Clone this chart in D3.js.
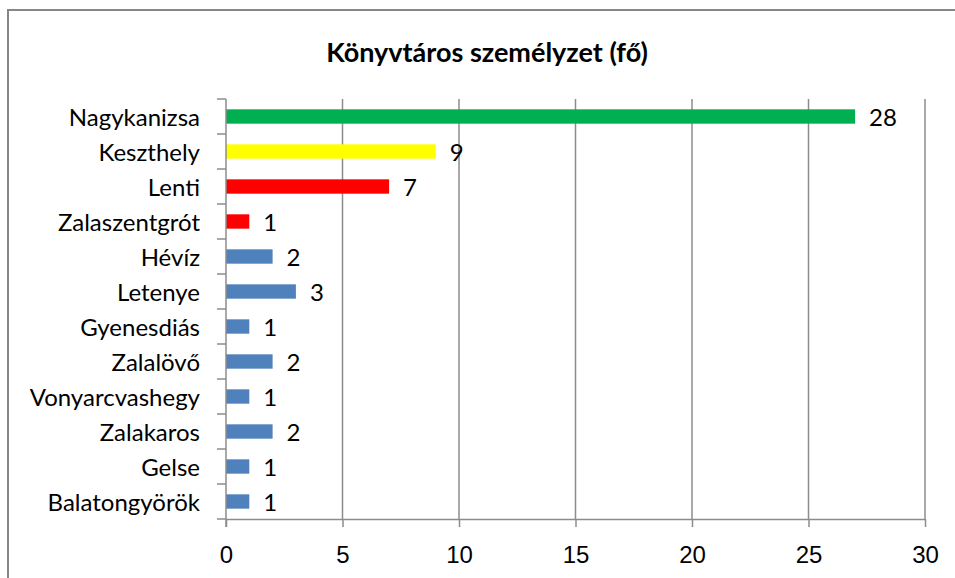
<!DOCTYPE html>
<html>
<head>
<meta charset="utf-8">
<script src="https://cdn.jsdelivr.net/npm/d3@7"></script>
<style>
  body { margin: 0; background: #fff; }
  svg { display: block; font-family: Lato, "Open Sans", sans-serif; }
</style>
</head>
<body>
<svg id="chart"></svg>
<script>
var title = "Könyvtáros személyzet (fő)";
var categories = ["Nagykanizsa", "Keszthely", "Lenti", "Zalaszentgrót", "Hévíz", "Letenye",
    "Gyenesdiás", "Zalalövő", "Vonyarcvashegy", "Zalakaros", "Gelse", "Balatongyörök"];
// bar lengths as drawn, and the data labels as printed (they differ for Nagykanizsa)
var values = [27, 9, 7, 1, 2, 3, 1, 2, 1, 2, 1, 1];
var labels = ["28", "9", "7", "1", "2", "3", "1", "2", "1", "2", "1", "1"];
var colors = ["#00b050", "#ffff00", "#ff0000", "#ff0000", "#4f81bd", "#4f81bd",
    "#4f81bd", "#4f81bd", "#4f81bd", "#4f81bd", "#4f81bd", "#4f81bd"];
var xTicks = [0, 5, 10, 15, 20, 25, 30];

var width = 955, height = 578,
    margin = {top: 99, right: 30, bottom: 59, left: 226};
var fs = "24px";

var svg = d3.select("#chart")
    .attr("width", width)
    .attr("height", height);

// outer chart frame
svg.append("path")
    .attr("d", "M8,600 L8,10 L960,10")
    .attr("fill", "none")
    .attr("stroke", "#868686")
    .attr("stroke-width", 2);

svg.append("text")
    .attr("x", 487)
    .attr("y", 62)
    .attr("text-anchor", "middle")
    .style("font-size", "27px")
    .style("font-weight", "bold")
    .text(title);

var x = d3.scaleLinear()
    .domain([0, 30])
    .range([margin.left, width - margin.right]);

var y = d3.scaleBand()
    .domain(categories)
    .range([margin.top, height - margin.bottom])
    .paddingInner(0.59)
    .paddingOuter(0.295);

var band = d3.scaleBand().domain(categories).range([margin.top, height - margin.bottom]);

// vertical gridlines
svg.append("g")
    .selectAll("line")
    .data(xTicks.slice(1))
    .join("line")
    .attr("x1", d => x(d)).attr("x2", d => x(d))
    .attr("y1", margin.top).attr("y2", height - margin.bottom)
    .attr("stroke", "#8c8c8c")
    .attr("stroke-width", 1.5);

// bars
svg.append("g")
    .selectAll("rect")
    .data(values)
    .join("rect")
    .attr("x", x(0))
    .attr("y", (d, i) => y(categories[i]))
    .attr("width", d => x(d) - x(0))
    .attr("height", y.bandwidth())
    .attr("fill", (d, i) => colors[i]);

// data labels
svg.append("g")
    .selectAll("text")
    .data(values)
    .join("text")
    .attr("x", d => x(d) + 14)
    .attr("y", (d, i) => y(categories[i]) + y.bandwidth() / 2)
    .attr("dy", "0.4em")
    .style("font-size", fs)
    .text((d, i) => labels[i]);

// x axis
var xAxis = g => g
    .attr("transform", `translate(0,${height - margin.bottom})`)
    .call(d3.axisBottom(x).tickValues(xTicks).tickSize(8).tickPadding(19).tickSizeOuter(0))
    .call(g => g.selectAll("line, .domain").attr("stroke", "#8c8c8c").attr("stroke-width", 1.5))
    .call(g => g.selectAll("text").style("font-size", fs).attr("fill", "#000"))
    .style("font-family", null);

// y axis: tick marks sit between categories
var yAxis = g => g
    .call(g => g.append("line")
        .attr("x1", x(0)).attr("x2", x(0))
        .attr("y1", margin.top).attr("y2", height - margin.bottom + 8)
        .attr("stroke", "#8c8c8c").attr("stroke-width", 1.5))
    .call(g => g.selectAll(".sep")
        .data(categories)
        .join("line")
        .attr("class", "sep")
        .attr("x1", x(0) - 9).attr("x2", x(0))
        .attr("y1", d => band(d)).attr("y2", d => band(d))
        .attr("stroke", "#8c8c8c").attr("stroke-width", 1.5))
    .call(g => g.append("line")
        .attr("x1", x(0) - 9).attr("x2", x(0))
        .attr("y1", height - margin.bottom).attr("y2", height - margin.bottom)
        .attr("stroke", "#8c8c8c").attr("stroke-width", 1.5))
    .call(g => g.selectAll(".lbl")
        .data(categories)
        .join("text")
        .attr("class", "lbl")
        .attr("x", x(0) - 26)
        .attr("y", d => band(d) + band.bandwidth() / 2)
        .attr("dy", "0.38em")
        .attr("text-anchor", "end")
        .style("font-size", fs)
        .text(d => d));

svg.append("g").call(xAxis);
svg.append("g").call(yAxis);
</script>
</body>
</html>
